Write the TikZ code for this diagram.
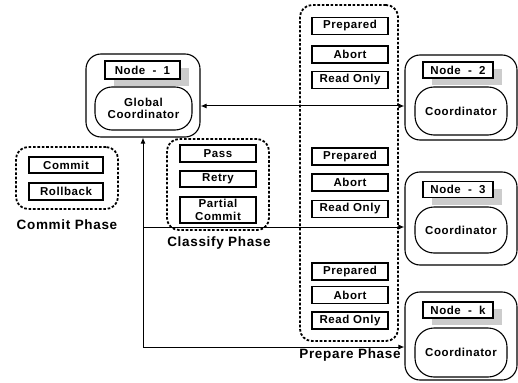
\documentclass[tikz,border=0pt]{standalone}
\usepackage{fontspec}
\setmainfont{Liberation Sans}[BoldFeatures={LetterSpace=5}]
\usetikzlibrary{arrows.meta,shadows}
\newcommand{\nodelbl}[1]{Node\hspace{3.5pt} -\hspace{3.5pt} #1}
\begin{document}
\begin{tikzpicture}[x=1pt,y=-1pt,
  every node/.style={font=\bfseries\fontsize{11.5}{12.5}\selectfont, inner sep=0pt},
  outerbox/.style={draw, line width=1.1pt, rounded corners=15pt},
  innerbox/.style={draw, line width=1.1pt, rounded corners=19pt, fill=white, align=center},
  labelbox/.style={draw, line width=1.2pt, fill=white, minimum width=70pt, minimum height=16pt,
     drop shadow={shadow xshift=9pt, shadow yshift=-7pt, fill=gray!40, opacity=1}},
  smallbox/.style={draw, line width=1.2pt, fill=white, align=center},
  phasebox/.style={draw, line width=1.8pt, dash pattern=on 2.6pt off 1.8pt, rounded corners=12pt},
  phaselabel/.style={font=\bfseries\fontsize{13.5}{15}\selectfont},
  conn/.style={line width=1pt, -{Latex[length=6pt,width=5pt]}},
]
\useasboundingbox (0,0) rectangle (518,382);

% dashed phase groups
\node[phasebox, minimum width=102pt, minimum height=62pt] (cmg) at (67,178) {};
\node[phasebox, minimum width=102pt, minimum height=91pt] (clg) at (218,184.5) {};
\node[phasebox, minimum width=98pt, minimum height=336pt] (prg) at (349,173) {};

% node boxes
\node[outerbox, minimum width=114pt, minimum height=83pt] (n1) at (143,95.5) {};
\node[outerbox, minimum width=112pt, minimum height=85pt] (n2) at (461,97.5) {};
\node[outerbox, minimum width=112pt, minimum height=93pt] (n3) at (461,218.5) {};
\node[outerbox, minimum width=112pt, minimum height=88pt] (nk) at (461,336) {};

\node[labelbox, minimum width=75pt, minimum height=18pt] (n1l) at (142.5,70) {\nodelbl{1}};
\node[labelbox] (n2l) at (458,70) {\nodelbl{2}};
\node[labelbox] (n3l) at (458,189.5) {\nodelbl{3}};
\node[labelbox] (nkl) at (458,310) {\nodelbl{k}};

\node[innerbox, minimum width=97pt, minimum height=43pt, rounded corners=17pt] (n1c) at (143.5,108.5) {Global\\Coordinator};
\node[innerbox, minimum width=92pt, minimum height=48pt] (n2c) at (461,111) {Coordinator};
\node[innerbox, minimum width=92pt, minimum height=46pt] (n3c) at (461,230) {Coordinator};
\node[innerbox, minimum width=92pt, minimum height=49pt] (nkc) at (461,352.5) {Coordinator};

% commit group
\node[smallbox, minimum width=74pt, minimum height=16pt] (commit) at (66,165) {Commit};
\node[smallbox, minimum width=74pt, minimum height=17pt] (rollback) at (66,191.5) {Rollback};
\node[phaselabel] (cmlab) at (67,225) {Commit Phase};

% classify group
\node[smallbox, minimum width=76pt, minimum height=17pt] (pass) at (218,153.5) {Pass};
\node[smallbox, minimum width=76pt, minimum height=16pt] (retry) at (218,179) {Retry};
\node[smallbox, minimum width=76pt, minimum height=26pt] (partial) at (218,210) {Partial\\Commit};
\node[phaselabel] (cllab) at (219,243) {Classify Phase};

% prepare group
\begin{scope}[every node/.append style={smallbox, minimum width=76pt, minimum height=17pt}]
\node (p1) at (350,26) {Prepared};
\node (a1) at (350,54.5) {Abort};
\node (r1) at (350,80) {Read Only};
\node (p2) at (350,156.5) {Prepared};
\node (a2) at (350,182.5) {Abort};
\node (r2) at (350,209) {Read Only};
\node (p3) at (350,271.5) {Prepared};
\node (a3) at (350,295) {Abort};
\node (r3) at (350,320.5) {Read Only};
\end{scope}
\node[phaselabel] (prlab) at (350,355) {Prepare Phase};

% connectors
\coordinate (ya) at (0,106);
\coordinate (ym) at (0,227);
\coordinate (yb) at (0,347);
\coordinate (jm) at (n1.south |- ym);
\coordinate (jb) at (n1.south |- yb);
\draw[conn, {Latex[length=6pt,width=5pt]}-{Latex[length=6pt,width=5pt]}] (ya -| n1.east) -- (ya -| n2.west);
\draw[conn] (jb) -- (n1.south);
\draw[conn] (jm) -- (jm -| n3.west);
\draw[conn] (jb) -- (jb -| nk.west);
\end{tikzpicture}
\end{document}
